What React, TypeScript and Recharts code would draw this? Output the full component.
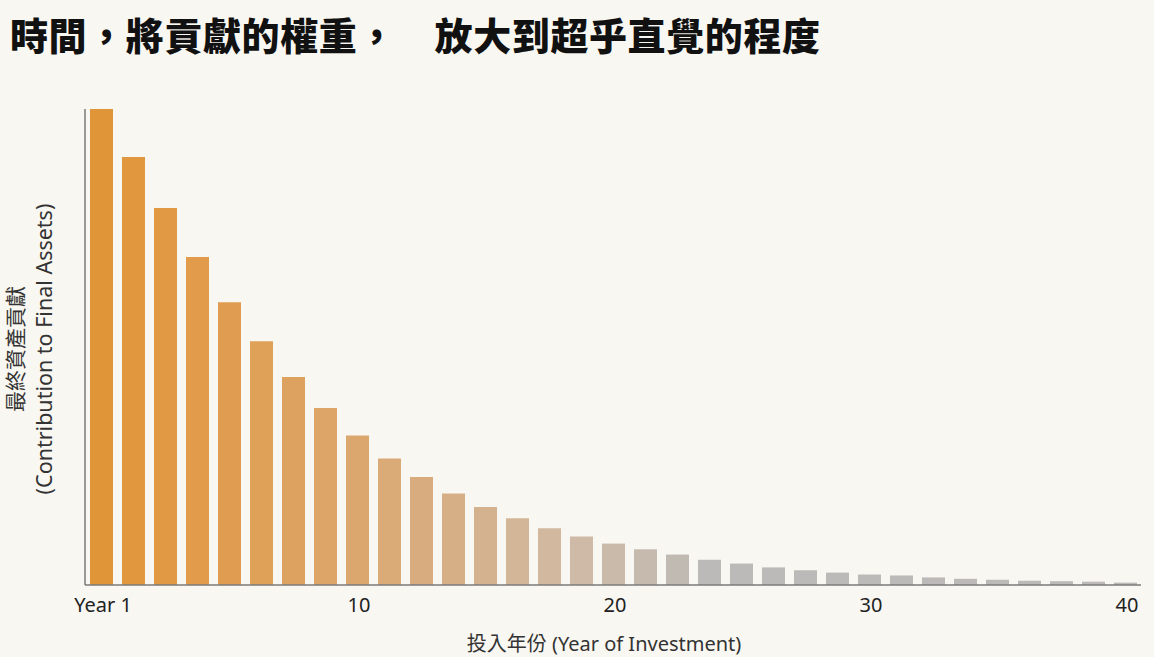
import React from 'react';
import { BarChart, Bar, XAxis, YAxis, Cell, Label } from 'recharts';

// 33 bars, contribution normalised so that the first year = 100
const barIndex = [
  1, 2, 3, 4, 5, 6, 7, 8, 9, 10, 11, 12, 13, 14, 15, 16, 17,
  18, 19, 20, 21, 22, 23, 24, 25, 26, 27, 28, 29, 30, 31, 32, 33,
];
const contribution = [
  100, 89.9, 79.2, 68.9, 59.4, 51.2, 43.7, 37.2, 31.4, 26.6, 22.7,
  19.2, 16.4, 14.0, 11.9, 10.2, 8.7, 7.5, 6.4, 5.3, 4.5, 3.7, 3.1,
  2.6, 2.2, 2.0, 1.6, 1.3, 1.1, 0.9, 0.8, 0.7, 0.5,
];
// year axis runs 0..40, first tick is labelled "Year 1"
const yearTicks = [0, 10, 20, 30, 40];
const yearTickLabels = ['Year 1', '10', '20', '30', '40'];

const title = '時間，將貢獻的權重，　放大到超乎直覺的程度';
const yTitleZh = '最終資產貢獻';
const yTitleEn = '(Contribution to Final Assets)';
const xTitle = '投入年份 (Year of Investment)';

const data = barIndex.map((b, i) => ({ bar: b, value: contribution[i] }));

const FONT = '"Noto Sans", "Open Sans", "Noto Sans CJK TC", sans-serif';

// orange fading to warm grey
const barColor = (i: number) => {
  const t = Math.min(1, i / 19);
  const h = 33 - 5 * t;
  const s = 70 * (1 - t * t) + 3;
  const l = 55 + 18 * Math.min(1, 1.3 * t);
  return `hsl(${h}, ${s}%, ${l}%)`;
};

const YTitle = (props: any) => {
  const vb = props.viewBox || {};
  const cy = vb.y + vb.height / 2 + 2;
  return (
    <g fontFamily={FONT} fill="#333">
      <text
        x={15}
        y={cy}
        fontSize={21}
        transform={`rotate(-90, 15, ${cy})`}
        textAnchor="middle"
        dominantBaseline="central"
      >
        {yTitleZh}
      </text>
      <text
        x={43}
        y={cy}
        fontSize={21.5}
        transform={`rotate(-90, 43, ${cy})`}
        textAnchor="middle"
        dominantBaseline="central"
      >
        {yTitleEn}
      </text>
    </g>
  );
};

const XTitle = (props: any) => {
  const vb = props.viewBox || {};
  return (
    <text
      x={vb.x + vb.width / 2 - 9}
      y={vb.y + 66}
      textAnchor="middle"
      fontSize={20}
      fill="#333"
      fontFamily={FONT}
    >
      {xTitle}
    </text>
  );
};

export default function App() {
  return (
    <div style={{ position: 'absolute', left: 0, top: 0, width: 1154, height: 657, background: '#F9F7F2' }}>
      <style>{`body { margin: 0; }`}</style>
      <div
        style={{
          position: 'absolute',
          left: 10,
          top: 10,
          fontSize: 38,
          fontWeight: 900,
          letterSpacing: 0.6,
          color: '#111',
          fontFamily: '"Noto Sans CJK TC", sans-serif',
          whiteSpace: 'pre',
          lineHeight: '48px',
        }}
      >
        {title}
      </div>
      <div style={{ position: 'absolute', left: 0, top: 0 }}>
        <BarChart
          width={1154}
          height={657}
          data={data}
          margin={{ top: 109, right: 13, bottom: 42, left: 0 }}
          barSize={23}
        >
          <XAxis
            xAxisId="years"
            dataKey="bar"
            type="number"
            domain={[0, 40]}
            ticks={yearTicks}
            allowDataOverflow
            padding={{ left: 18, right: 14 }}
            height={30}
            tickLine={false}
            tickMargin={7}
            axisLine={{ stroke: '#7a7a7a', strokeWidth: 1.5 }}
            tick={{ fill: '#222', fontSize: 20, fontFamily: FONT }}
            tickFormatter={(v: number) => yearTickLabels[yearTicks.indexOf(v)] ?? String(v)}
          >
            <Label content={<XTitle />} />
          </XAxis>
          <XAxis dataKey="bar" xAxisId="bars" type="category" hide height={0} />
          <YAxis
            type="number"
            domain={[0, 100]}
            width={85}
            tick={false}
            tickLine={false}
            axisLine={{ stroke: '#7a7a7a', strokeWidth: 1.5 }}
          >
            <Label content={<YTitle />} />
          </YAxis>
          <Bar dataKey="value" xAxisId="bars" isAnimationActive={false}>
            {data.map((d, i) => (
              <Cell key={d.bar} fill={barColor(i)} />
            ))}
          </Bar>
        </BarChart>
      </div>
    </div>
  );
}
